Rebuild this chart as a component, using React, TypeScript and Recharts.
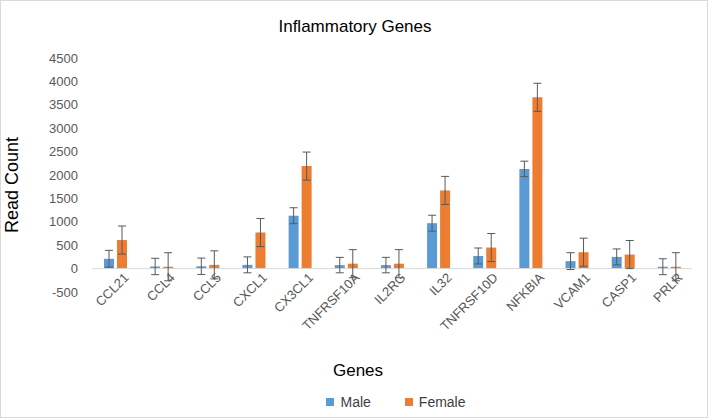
import { BarChart, Bar, XAxis, YAxis, ErrorBar, ReferenceLine, Legend } from "recharts";

const genes = ["CCL21", "CCL4", "CCL5", "CXCL1", "CX3CL1", "TNFRSF10A", "IL2RG", "IL32", "TNFRSF10D", "NFKBIA", "VCAM1", "CASP1", "PRLR"];
const male = [210, 45, 50, 80, 1130, 75, 75, 970, 270, 2130, 160, 250, 40];
const maleErr = [180, 175, 175, 170, 170, 165, 165, 170, 170, 165, 180, 170, 170];
const female = [610, 40, 80, 770, 2190, 105, 105, 1670, 450, 3660, 350, 300, 40];
const femaleErr = [300, 300, 300, 300, 300, 300, 300, 300, 300, 300, 300, 300, 300];
const yTicks = [-500, 0, 500, 1000, 1500, 2000, 2500, 3000, 3500, 4000, 4500];

const data = genes.map((g, i) => ({
  gene: g,
  male: male[i],
  maleErr: maleErr[i],
  female: female[i],
  femaleErr: femaleErr[i],
}));

const FONT = "'Liberation Sans', Arial, sans-serif";

// category labels sit just under the zero line, like Excel does
function GeneTick(props: any) {
  const { x, y, payload } = props;
  return (
    <g transform={`translate(${x + 8},${y - 20})`}>
      <text
        x={0}
        y={0}
        dy="0.7em"
        textAnchor="end"
        transform="rotate(-45)"
        fontSize={13}
        fill="#595959"
        fontFamily={FONT}
      >
        {payload.value}
      </text>
    </g>
  );
}

function LegendContent() {
  const items = [
    { name: "Male", color: "#5B9BD5" },
    { name: "Female", color: "#ED7D31" },
  ];
  return (
    <div style={{ height: 28, display: "flex", justifyContent: "center", gap: 34, fontFamily: FONT, fontSize: 14, color: "#404040", paddingLeft: 100 }}>
      {items.map((it) => (
        <div key={it.name} style={{ display: "flex", alignItems: "center", height: 20 }}>
          <span style={{ width: 8, height: 8, background: it.color, display: "inline-block", marginRight: 6 }} />
          {it.name}
        </div>
      ))}
    </div>
  );
}

export default function App() {
  return (
    <div style={{ position: "absolute", left: 0, top: 0, width: 708, height: 420, background: "#fff" }}>
      <BarChart
        width={708}
        height={420}
        data={data}
        margin={{ top: 58, right: 16, left: 0, bottom: 0 }}
        barGap={3}
        barSize={10}
      >
        <text x={355} y={32} textAnchor="middle" fontSize={17} fill="#000" fontFamily={FONT}>
          Inflammatory Genes
        </text>
        <text x={18} y={185} textAnchor="middle" fontSize={18} fill="#000" fontFamily={FONT} transform="rotate(-90 18 185)">
          Read Count
        </text>
        <text x={358} y={376} textAnchor="middle" fontSize={17} fill="#000" fontFamily={FONT}>
          Genes
        </text>
        <XAxis
          dataKey="gene"
          interval={0}
          height={100}
          axisLine={false}
          tickLine={false}
          tickSize={0}
          tickMargin={0}
          tick={<GeneTick />}
        />
        <YAxis
          width={92}
          domain={[-500, 4500]}
          ticks={yTicks}
          axisLine={false}
          tickLine={false}
          tickMargin={8}
          tick={{ fontSize: 13, fill: "#595959", fontFamily: FONT }}
        />
        <ReferenceLine y={0} stroke="#d9d9d9" strokeWidth={1} />
        <Legend verticalAlign="bottom" content={<LegendContent />} />
        <Bar dataKey="male" name="Male" fill="#5B9BD5" isAnimationActive={false}>
          <ErrorBar dataKey="maleErr" width={4} stroke="#595959" strokeWidth={1} direction="y" />
        </Bar>
        <Bar dataKey="female" name="Female" fill="#ED7D31" isAnimationActive={false}>
          <ErrorBar dataKey="femaleErr" width={4} stroke="#595959" strokeWidth={1} direction="y" />
        </Bar>
      </BarChart>
      <div style={{ position: "absolute", left: 0, top: 0, width: 706, height: 416, border: "1px solid #d9d9d9", pointerEvents: "none" }} />
    </div>
  );
}
